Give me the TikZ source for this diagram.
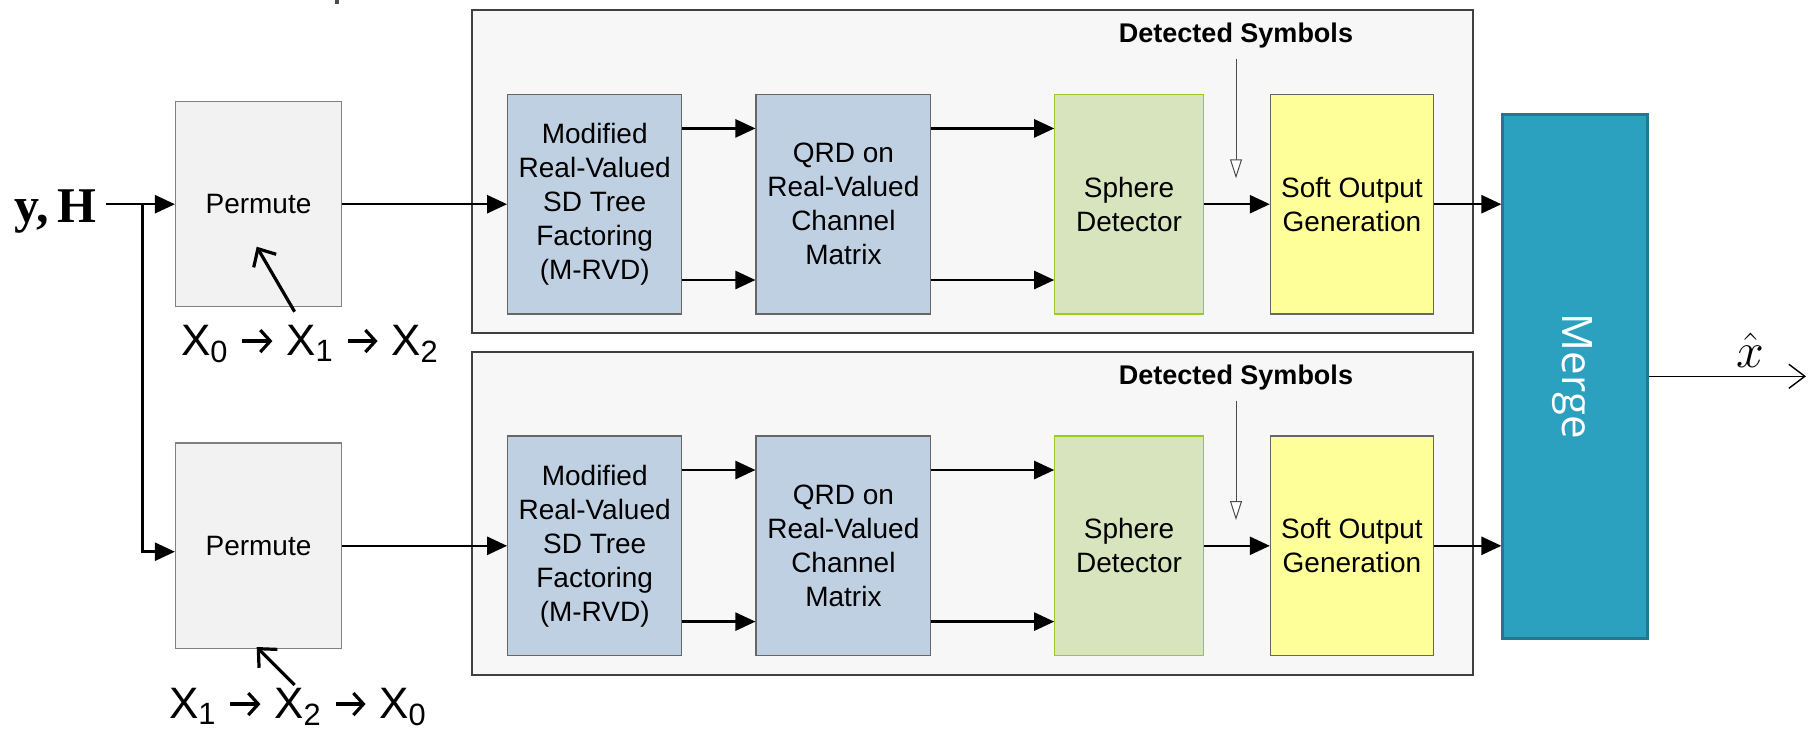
\documentclass[tikz,border=0pt]{standalone}
\usepackage{fontspec}
\setmainfont{Liberation Sans}
\newfontfamily\inputfont{Liberation Serif}
\newfontfamily\arrowfont{DejaVu Sans}
\newfontfamily\mergefont{Open Sans}
\usetikzlibrary{arrows.meta,calc}

\definecolor{panelfill}{HTML}{F7F7F7}
\definecolor{permfill}{HTML}{F2F2F2}
\definecolor{bluefill}{HTML}{BFD0E2}
\definecolor{greenfill}{HTML}{D8E4BE}
\definecolor{greenedge}{HTML}{9BCB1E}
\definecolor{yellowfill}{HTML}{FFFF99}
\definecolor{mergefill}{HTML}{2CA1BF}
\definecolor{mergeedge}{HTML}{22798F}

\tikzset{
  panel/.style={draw=black!75, line width=0.8pt, fill=panelfill,
    minimum width=500.25pt, inner sep=0pt},
  permbox/.style={draw=black!50, line width=0.6pt, fill=permfill,
    minimum width=83pt, minimum height=102.6pt, inner sep=0pt,
    font=\fontsize{14}{17}\selectfont},
  stagebox/.style={line width=0.6pt, minimum height=109.85pt, inner sep=0pt,
    align=center, font=\fontsize{14}{17}\selectfont},
  bluebox/.style={stagebox, draw=black!60, fill=bluefill},
  greenbox/.style={stagebox, draw=greenedge, fill=greenfill},
  yellowbox/.style={stagebox, draw=black!60, fill=yellowfill},
  mergebox/.style={draw=mergeedge, line width=1.5pt, fill=mergefill,
    minimum width=72.5pt, minimum height=262pt, inner sep=0pt},
  arr/.style={line width=1.25pt, -{Triangle[length=10pt,width=9pt]}},
  ptr/.style={line width=1.6pt, -{Straight Barb[length=7pt,width=13pt]}},
  detarr/.style={draw=black!70, line width=0.5pt,
    -{Triangle[fill=white,length=9.5pt,width=6pt]}},
  outarr/.style={line width=0.7pt, -{Straight Barb[length=8pt,width=12pt]}},
  detlabel/.style={font=\bfseries\fontsize{13.5}{16}\selectfont, inner sep=0pt},
  perlabel/.style={font=\fontsize{22}{26}\selectfont, inner sep=0pt, anchor=base}
}

% order arrow: a short shaft with an open chevron head
\newcommand{\ra}{\tikz[baseline=-0.6ex]\draw[line width=1.6pt,
  -{Straight Barb[length=5pt,width=11pt]}] (0,0) -- (15pt,0);}

\begin{document}
\begin{tikzpicture}[x=0.5pt,y=-0.5pt]
\useasboundingbox (0,0) rectangle (1809,730);

% stray mark at the top edge
\fill[black!70] (335,0) rectangle (339,4);

% detector panels
\node[panel, minimum height=161.35pt] (panA) at (972.5,171.4) {};
\node[panel, minimum height=161.65pt] (panB) at (972.5,513.4) {};

% input
\node[font=\inputfont\bfseries\fontsize{25}{28}\selectfont, inner sep=0pt,
      anchor=base west] (yh) at (14,222) {y,\,H};

% permutation stages
\node[permbox] (perm1) at (258.5,204.2) {Permute};
\node[permbox] (perm2) at (258.5,545.5) {Permute};

\node[perlabel] (ord1) at (310,355)
  {X\textsubscript{0} \ra{} X\textsubscript{1} \ra{} X\textsubscript{2}};
\node[perlabel] (ord2) at (298,718)
  {X\textsubscript{1} \ra{} X\textsubscript{2} \ra{} X\textsubscript{0}};

% processing chains
\foreach \r/\cy in {1/204.2, 2/545.8}{
  \node[bluebox, minimum width=87pt] (mod\r) at (594.7,\cy)
    {Modified\\Real-Valued\\SD Tree\\Factoring\\(M-RVD)};
  \node[bluebox, minimum width=87.35pt] (qrd\r) at (843.4,\cy)
    {QRD on\\Real-Valued\\Channel\\Matrix};
  \node[greenbox, minimum width=74.2pt] (sph\r) at (1129,\cy)
    {Sphere\\Detector};
  \node[yellowbox, minimum width=81.5pt] (soft\r) at (1351.9,\cy)
    {Soft Output\\Generation};
}

\node[detlabel] (ds1) at (1236,36) {Detected Symbols};
\node[detlabel] (ds2) at (1236,377.7) {Detected Symbols};
\coordinate (dt1) at (1236,178.3);
\coordinate (dt2) at (1236,520);

% merge
\node[mergebox] (merge) at (1575.4,376.3) {};
\node[rotate=-90, text=white, inner sep=0pt,
      font=\mergefont\fontsize{21}{24}\selectfont]
  (mtxt) at (1572,376.3) {Merge};
\coordinate (xout) at (1806,376.3);
\node[font=\fontsize{32}{36}\selectfont, inner sep=0pt, anchor=base]
  (xhat) at (1750,367) {$\hat{x}$};

% input distribution
\coordinate (split) at (142.7,204.2);
\draw[arr] ([xshift=4.5pt]yh.east |- perm1.west) -- (perm1.west);
\draw[arr] (split) |- ([yshift=-3.1pt]perm2.west);

% permutation order pointers
\coordinate (p1t) at (294.6,311.7);
\coordinate (p1h) at (256.7,246.7);
\coordinate (p2t) at (294.6,685);
\coordinate (p2h) at (256.7,647);
\draw[ptr] (p1t) -- (p1h);
\draw[ptr] (p2t) -- (p2h);

% chain connectors
\foreach \r in {1,2}{
  \draw[arr] (perm\r.east |- mod\r.west) -- (mod\r.west);
  \draw[arr] ([yshift=37.9pt]mod\r.east) -- ([yshift=37.9pt]qrd\r.west);
  \draw[arr] ([yshift=-37.9pt]mod\r.east) -- ([yshift=-37.9pt]qrd\r.west);
  \draw[arr] ([yshift=37.9pt]qrd\r.east) -- ([yshift=37.9pt]sph\r.west);
  \draw[arr] ([yshift=-37.9pt]qrd\r.east) -- ([yshift=-37.9pt]sph\r.west);
  \draw[arr] (sph\r.east) -- (soft\r.west);
  \draw[arr] (soft\r.east) -- (soft\r.east -| merge.west);
  \draw[detarr] ([yshift=-5pt]ds\r.south) -- (dt\r);
}

% output
\draw[outarr] (merge.east) -- (xout);
\end{tikzpicture}
\end{document}
